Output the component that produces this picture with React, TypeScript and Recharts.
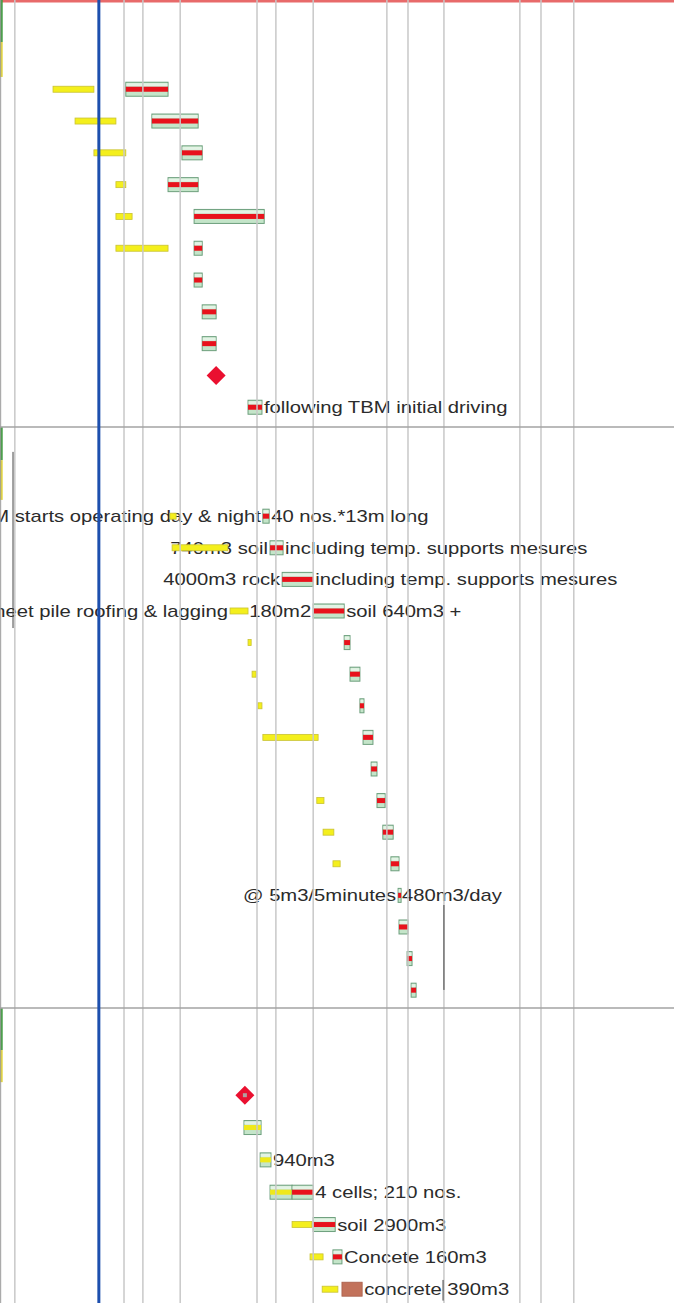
import React from "react";
import { ComposedChart, Bar, XAxis, YAxis, ReferenceLine, ReferenceArea } from "recharts";

// time axis is in working days, row axis in schedule rows
const DAY_MAX = 150;
const ROW_MIN = -2.8;
const ROW_MAX = 38.175;

// timescale grid lines and status date (days)
const gridDays = [3.3, 27.6, 31.8, 40.1, 57.2, 61.4, 69.7, 86.1, 90.8, 98.8, 115.7, 120.4, 127.7];
const statusDay = 22.0;

// page section breaks (rows)
const sectionBreaks = [10.63, 28.9];

type Task = { row: number; start: number; end: number; before?: string; after?: string };
type Mile = { row: number; day: number };

// section 1 - TBM launching
const s1Base: Task[] = [
  { row: 0, start: 11.8, end: 20.9 },
  { row: 1, start: 16.7, end: 25.8 },
  { row: 2, start: 20.9, end: 28.0 },
  { row: 3, start: 25.8, end: 28.0 },
  { row: 4, start: 25.8, end: 29.4 },
  { row: 5, start: 25.8, end: 37.4 },
];
const s1Crit: Task[] = [
  { row: 0, start: 28.0, end: 37.4 },
  { row: 1, start: 33.8, end: 44.1 },
  { row: 2, start: 40.5, end: 45.0 },
  { row: 3, start: 37.4, end: 44.1 },
  { row: 4, start: 43.2, end: 58.8 },
  { row: 5, start: 43.2, end: 45.0 },
  { row: 6, start: 43.2, end: 45.0 },
  { row: 7, start: 45.0, end: 48.1 },
  { row: 8, start: 45.0, end: 48.1 },
  { row: 10, start: 55.2, end: 58.3, after: "following TBM initial driving" },
];
const s1Miles: Mile[] = [{ row: 9, day: 48.1 }];

// section 2 - shaft & tunnel works
const s2Base: Task[] = [
  { row: 0, start: 37.8, end: 39.2 },
  { row: 1, start: 38.3, end: 50.7 },
  { row: 3, start: 51.2, end: 55.2, before: "Sheet pile roofing & lagging" },
  { row: 4, start: 55.2, end: 55.9 },
  { row: 5, start: 56.1, end: 57.0 },
  { row: 6, start: 57.4, end: 58.3 },
  { row: 7, start: 58.5, end: 70.8 },
  { row: 9, start: 70.5, end: 72.1 },
  { row: 10, start: 71.9, end: 74.3 },
  { row: 11, start: 74.1, end: 75.7 },
];
const s2Crit: Task[] = [
  { row: 0, start: 58.5, end: 59.9, before: "TBM starts operating day & night", after: "40 nos.*13m long" },
  { row: 1, start: 60.1, end: 63.0, before: "740m3 soil", after: "including temp. supports mesures" },
  { row: 2, start: 62.8, end: 69.7, before: "4000m3 rock", after: "including temp. supports mesures" },
  { row: 3, start: 69.7, end: 76.6, before: "180m2", after: "soil 640m3 +" },
  { row: 4, start: 76.6, end: 77.9 },
  { row: 5, start: 77.9, end: 80.1 },
  { row: 6, start: 80.1, end: 81.0 },
  { row: 7, start: 80.8, end: 83.0 },
  { row: 8, start: 82.6, end: 83.9 },
  { row: 9, start: 83.9, end: 85.7 },
  { row: 10, start: 85.2, end: 87.5 },
  { row: 11, start: 87.0, end: 88.8 },
  { row: 12, start: 88.6, end: 89.0, before: "@ 5m3/5minutes", after: "480m3/day" },
  { row: 13, start: 88.8, end: 90.8 },
  { row: 14, start: 90.6, end: 91.7 },
  { row: 15, start: 91.5, end: 92.6 },
];

// section 3 - retrieval shaft
const s3Miles: Mile[] = [{ row: 0, day: 54.5 }];
const s3Done: Task[] = [
  { row: 1, start: 54.3, end: 58.1 },
  { row: 2, start: 57.9, end: 60.3, after: "940m3" },
  { row: 3, start: 60.1, end: 65.0 },
];
const s3Crit: Task[] = [
  { row: 3, start: 65.0, end: 69.7, after: "4 cells; 210 nos." },
  { row: 4, start: 69.7, end: 74.6, after: "soil 2900m3" },
  { row: 5, start: 74.1, end: 76.1, after: "Concete 160m3" },
];
const s3Base: Task[] = [
  { row: 4, start: 65.0, end: 69.4 },
  { row: 5, start: 69.0, end: 71.9 },
  { row: 6, start: 71.7, end: 75.2 },
];
const s3Other: Task[] = [{ row: 6, start: 76.1, end: 80.6, after: "concrete 390m3" }];

// where each section's first row sits and its row pitch
const sections = [
  { first: 0, step: 1 },
  { first: 13.426, step: 0.9937 },
  { first: 31.634, step: 1.0168 },
];

const toItems = (sec: number, kind: string, tasks: Task[]) =>
  tasks.map((t) => ({
    y: sections[sec].first + t.row * sections[sec].step,
    span: [t.start, t.end],
    kind,
    before: t.before,
    after: t.after,
  }));
const milesToItems = (sec: number, miles: Mile[], dot = false) =>
  miles.map((m) => ({
    y: sections[sec].first + m.row * sections[sec].step,
    span: [m.day, m.day],
    kind: "mile",
    dot,
  }));

const items = [
  ...toItems(0, "crit", s1Crit),
  ...milesToItems(0, s1Miles),
  ...toItems(0, "base", s1Base),
  ...toItems(1, "crit", s2Crit),
  ...toItems(1, "base", s2Base),
  ...milesToItems(2, s3Miles, true),
  ...toItems(2, "done", s3Done),
  ...toItems(2, "crit", s3Crit),
  ...toItems(2, "other", s3Other),
  ...toItems(2, "base", s3Base),
];

const FONT = "'Liberation Sans', Arial, sans-serif";

// the scanned page is a little stretched sideways, so the notes are too
const Note = ({ x, y, anchor, text }: { x: number; y: number; anchor: "start" | "end"; text: string }) => (
  <text
    transform={`translate(${x},${y}) scale(1.19,1)`}
    textAnchor={anchor}
    fontFamily={FONT}
    fontSize={17}
    fill="#2b2b2b"
  >
    {text}
  </text>
);

const TaskShape = (props: any) => {
  const { x, y, width, height, payload } = props;
  if (x == null || y == null || !payload) return null;
  const cy = y + height / 2;
  const w = Math.max(width || 0, 0);
  const kind = payload.kind;
  let mark: React.ReactNode = null;

  if (kind === "base") {
    mark = (
      <rect x={x} y={cy - 3} width={Math.max(w, 3)} height={6} fill="#f4ef1c" stroke="#c9c233" strokeWidth={0.8} />
    );
  } else if (kind === "crit" || kind === "done") {
    const bw = Math.max(w, 3);
    mark = (
      <g>
        <rect x={x} y={cy - 7} width={bw} height={14} fill="#c4e5c9" stroke="#6d9f7d" strokeWidth={1} />
        <rect x={x + 0.5} y={cy - 6} width={bw - 1} height={3} fill="#e3f3e5" />
        <rect x={x} y={cy - 2.5} width={bw} height={5} fill={kind === "crit" ? "#e8121c" : "#efe81a"} />
      </g>
    );
  } else if (kind === "other") {
    mark = <rect x={x} y={cy - 7} width={w} height={14} fill="#c2725b" stroke="#a85e49" strokeWidth={0.8} />;
  } else if (kind === "mile") {
    const s = 9.5;
    mark = (
      <g>
        <path d={`M${x},${cy - s} L${x + s},${cy} L${x},${cy + s} L${x - s},${cy} Z`} fill="#ea1030" />
        {payload.dot && <rect x={x - 2} y={cy - 2} width={4} height={4} fill="#b0a0a0" />}
      </g>
    );
  }

  return (
    <g>
      {payload.before && <Note x={x - 2} y={cy + 6} anchor="end" text={payload.before} />}
      {payload.after && <Note x={x + w + 2} y={cy + 6} anchor="start" text={payload.after} />}
      {mark}
    </g>
  );
};

// left-hand coloured cells cut off by the page edge (rows)
const leftCells = [
  { y1: -2.8, y2: -1.48, fill: "#3f9c3f" },
  { y1: -1.48, y2: -0.38, fill: "#e4d63c" },
  { y1: 10.63, y2: 11.67, fill: "#3f9c3f" },
  { y1: 11.67, y2: 12.92, fill: "#e4d63c" },
  { y1: 28.9, y2: 30.22, fill: "#3f9c3f" },
  { y1: 30.22, y2: 31.23, fill: "#e4d63c" },
];

// darker stretches of a few grid lines
const darkSegments = [
  { day: 2.9, y1: 11.41, y2: 16.95 },
  { day: 98.8, y1: 25.66, y2: 28.33 },
  { day: 98.6, y1: 37.45, y2: 38.1 },
];

export default function App() {
  return (
    <div style={{ position: "absolute", left: 0, top: 0, background: "#fff" }}>
      <ComposedChart
        width={674}
        height={1303}
        data={items}
        layout="vertical"
        margin={{ top: 0, right: 0, bottom: 0, left: 0 }}
      >
        <XAxis type="number" domain={[0, DAY_MAX]} hide allowDataOverflow />
        <YAxis type="number" dataKey="y" domain={[ROW_MIN, ROW_MAX]} hide allowDataOverflow ticks={[0, 20]} />
        <ReferenceArea x1={0} x2={DAY_MAX} y1={ROW_MIN} y2={ROW_MIN + 0.08} fill="#e86a6a" fillOpacity={1} stroke="none" />
        {leftCells.map((c, i) => (
          <ReferenceArea key={`lc-${i}`} x1={0} x2={0.6} y1={c.y1} y2={c.y2} fill={c.fill} fillOpacity={1} stroke="none" />
        ))}
        <ReferenceLine x={0.15} stroke="#9a9a9a" strokeWidth={1} />
        {gridDays.map((d) => (
          <ReferenceLine key={`g-${d}`} x={d} stroke="#c8c8c8" strokeWidth={1.5} />
        ))}
        {darkSegments.map((s, i) => (
          <ReferenceLine
            key={`ds-${i}`}
            segment={[
              { x: s.day, y: s.y1 },
              { x: s.day, y: s.y2 },
            ]}
            stroke="#444"
            strokeWidth={1}
          />
        ))}
        {sectionBreaks.map((b) => (
          <ReferenceLine key={`b-${b}`} y={b} stroke="#a3a3a3" strokeWidth={1.5} />
        ))}
        <ReferenceLine x={statusDay} stroke="#1d4fae" strokeWidth={3} />
        <Bar dataKey="span" barSize={16} shape={TaskShape} isAnimationActive={false} />
      </ComposedChart>
    </div>
  );
}
